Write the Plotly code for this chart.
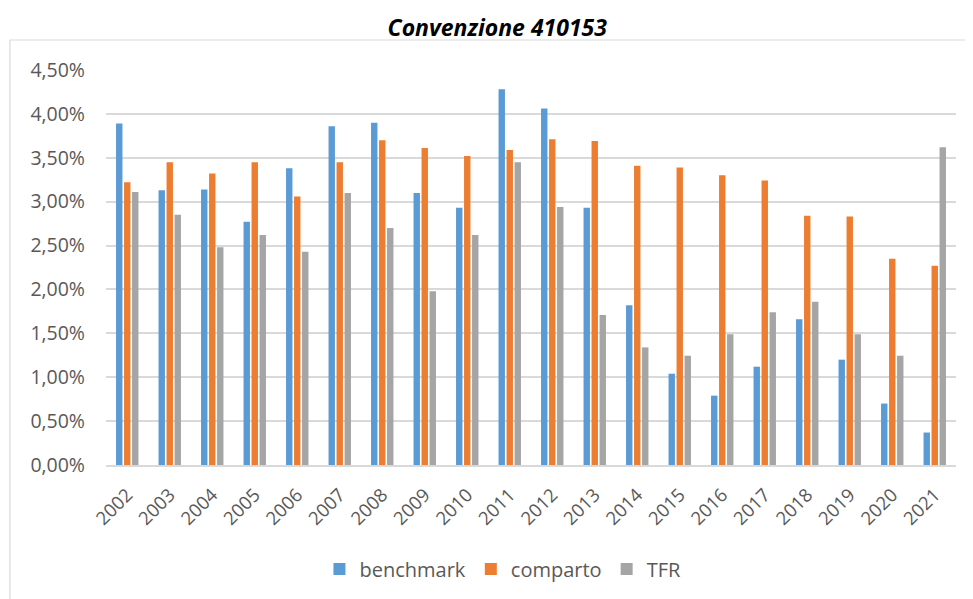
import plotly.graph_objects as go

years = [str(y) for y in range(2002, 2022)]
benchmark = [3.89, 3.13, 3.14, 2.77, 3.38, 3.86, 3.90, 3.10, 2.93, 4.28,
             4.06, 2.93, 1.82, 1.04, 0.79, 1.12, 1.66, 1.20, 0.70, 0.37]
comparto = [3.22, 3.45, 3.32, 3.45, 3.06, 3.45, 3.70, 3.61, 3.52, 3.59,
            3.71, 3.69, 3.41, 3.39, 3.30, 3.24, 2.84, 2.83, 2.35, 2.27]
tfr = [3.11, 2.85, 2.48, 2.62, 2.43, 3.10, 2.70, 1.98, 2.62, 3.45,
       2.94, 1.71, 1.34, 1.245, 1.49, 1.74, 1.86, 1.49, 1.245, 3.62]
tick_vals = [0, 0.5, 1, 1.5, 2, 2.5, 3, 3.5, 4, 4.5]
tick_text = ["0,00%", "0,50%", "1,00%", "1,50%", "2,00%", "2,50%",
             "3,00%", "3,50%", "4,00%", "4,50%"]

fig = go.Figure()
for name, vals, color in [("benchmark", benchmark, "#5B9BD5"),
                          ("comparto", comparto, "#ED7D31"),
                          ("TFR", tfr, "#A5A5A5")]:
    fig.add_trace(go.Bar(x=years, y=vals, name=name,
                         marker=dict(color=color, line=dict(width=0))))

fig.update_layout(
    width=965, height=591,
    paper_bgcolor="white", plot_bgcolor="white",
    margin=dict(l=98, r=17, t=62, b=133),
    barmode="group", bargap=0.435, bargroupgap=0.2,
    title=dict(text="<b><i>Convenzione 410153</i></b>", x=0.507, xanchor="center",
               y=0.966, yanchor="middle",
               font=dict(family="Open Sans, sans-serif", size=23, color="black")),
    font=dict(family="Open Sans, sans-serif", color="#595959"),
    legend=dict(orientation="h", x=0.467, xanchor="center", y=-0.26, yanchor="middle",
                font=dict(size=20, color="#595959"),
                traceorder="normal"),
    xaxis=dict(type="category", tickangle=-45, tickfont=dict(size=18.5, color="#595959"),
               showgrid=False, showline=True, linecolor="#d9d9d9", linewidth=1.5,
               ticks="", ticklabelstandoff=10),
    yaxis=dict(range=[0, 4.5], tickvals=tick_vals, ticktext=tick_text,
               tickfont=dict(size=19.5, color="#595959"),
               showgrid=True, gridcolor="#d9d9d9", gridwidth=1.5,
               zeroline=False, showline=False, ticks="", ticklabelstandoff=20),
    shapes=[dict(type="rect", xref="paper", yref="paper",
                 x0=-0.113, x1=1.05, y0=-0.4, y1=1.076,
                 line=dict(color="#d9d9d9", width=1.2), fillcolor="rgba(0,0,0,0)",
                 layer="below")],
)

fig.write_html("out.html")
